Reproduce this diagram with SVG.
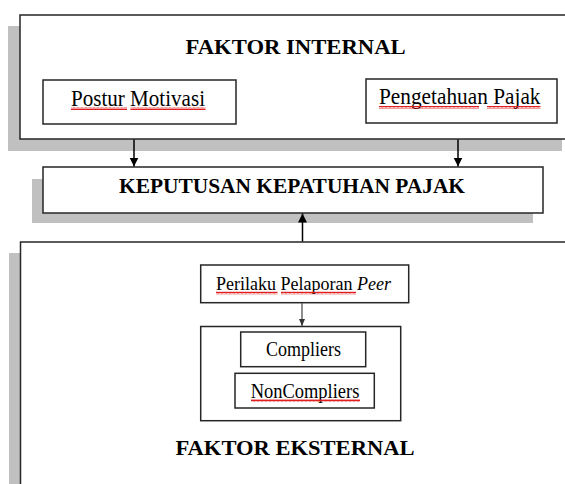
<svg xmlns="http://www.w3.org/2000/svg" width="565" height="484" viewBox="0 0 565 484">
<style>
  .box{fill:#fff;stroke:#262626;stroke-width:1.5}
  .shadow{fill:#c0c0c0}
  .t{font-family:"Liberation Serif","Times New Roman",serif;fill:#000}
  .b{font-weight:bold}
  .conn{stroke:#000;stroke-width:1.5;fill:none}
  .conn2{stroke:#444;stroke-width:1.2;fill:none}
  .sq{fill:url(#squiggle)}
</style>
<defs>
  <pattern id="squiggle" x="0" y="0" width="4" height="3" patternUnits="userSpaceOnUse">
    <path d="M0,2.5 L1,0.5 L2,2.5 L3,0.5 L4,2.5" fill="none" stroke="#e02020" stroke-width="1"/>
  </pattern>
  <marker id="ah" markerWidth="10" markerHeight="10" refX="9" refY="5" orient="auto" markerUnits="userSpaceOnUse">
    <path d="M0,0.5 L9,5 L0,9.5 Z" fill="#000"/>
  </marker>
  <marker id="ah2" markerWidth="8" markerHeight="8" refX="7" refY="4" orient="auto" markerUnits="userSpaceOnUse">
    <path d="M0,1 L7,4 L0,7 Z" fill="#333"/>
  </marker>
</defs>
<rect width="565" height="484" fill="#fff"/>

<g id="faktor-internal">
  <rect class="shadow" x="8" y="26" width="554" height="125"/>
  <rect class="box" x="20" y="15" width="560" height="124"/>
  <text class="t b" x="185.6" y="54" font-size="22" textLength="220" lengthAdjust="spacingAndGlyphs">FAKTOR INTERNAL</text>
</g>

<g id="postur-motivasi">
  <rect class="box" x="43" y="80" width="193" height="44"/>
  <text class="t" x="71" y="106" font-size="23" textLength="134" lengthAdjust="spacingAndGlyphs">Postur Motivasi</text>
  <rect class="sq" x="71" y="107" width="56" height="3"/>
  <rect class="sq" x="130.5" y="107" width="75" height="3"/>
</g>

<g id="pengetahuan-pajak">
  <rect class="box" x="366" y="79" width="191" height="44"/>
  <text class="t" x="379" y="104" font-size="23" textLength="161.5" lengthAdjust="spacingAndGlyphs">Pengetahuan Pajak</text>
  <rect class="sq" x="379" y="106" width="100" height="3"/>
  <rect class="sq" x="487" y="106" width="53.5" height="3"/>
</g>

<g id="keputusan">
  <rect class="shadow" x="32" y="179" width="501" height="44"/>
  <rect class="box" x="43" y="167" width="500" height="46"/>
  <text class="t b" x="119" y="193.3" font-size="20.5" textLength="346" lengthAdjust="spacingAndGlyphs">KEPUTUSAN KEPATUHAN PAJAK</text>
</g>

<g id="faktor-eksternal">
  <rect class="shadow" x="9" y="253" width="560" height="240"/>
  <rect class="box" x="20.5" y="242" width="560" height="250"/>
  <text class="t b" x="175.5" y="455" font-size="22" textLength="239" lengthAdjust="spacingAndGlyphs">FAKTOR EKSTERNAL</text>
</g>

<g id="perilaku-pelaporan-peer">
  <rect class="box" x="200.7" y="265" width="208" height="37.7"/>
  <text class="t" x="216" y="290" font-size="18">Perilaku Pelaporan <tspan font-style="italic">Peer</tspan></text>
  <rect class="sq" x="216" y="291.5" width="61.5" height="3"/>
  <rect class="sq" x="281" y="291.5" width="75" height="3"/>
</g>

<g id="kelompok-wajib-pajak">
  <rect class="box" x="200.7" y="326.5" width="200" height="94.2"/>
</g>

<g id="compliers">
  <rect class="box" x="240.7" y="332" width="125" height="34.7"/>
  <text class="t" x="266" y="355.5" font-size="20" textLength="75" lengthAdjust="spacingAndGlyphs">Compliers</text>
</g>

<g id="noncompliers">
  <rect class="box" x="235" y="373.3" width="139.3" height="34.7"/>
  <text class="t" x="250.7" y="397.5" font-size="20" textLength="108.7" lengthAdjust="spacingAndGlyphs">NonCompliers</text>
  <rect class="sq" x="251" y="399" width="109" height="3"/>
</g>

<g id="connectors">
  <line class="conn" x1="134" y1="139.5" x2="134" y2="166.5" marker-end="url(#ah)"/>
  <line class="conn" x1="458" y1="139.5" x2="458" y2="166.5" marker-end="url(#ah)"/>
  <line class="conn" x1="302.5" y1="241.5" x2="302.5" y2="213.5" marker-end="url(#ah)"/>
  <line class="conn2" x1="302" y1="303" x2="302" y2="326" marker-end="url(#ah2)"/>
</g>
</svg>
